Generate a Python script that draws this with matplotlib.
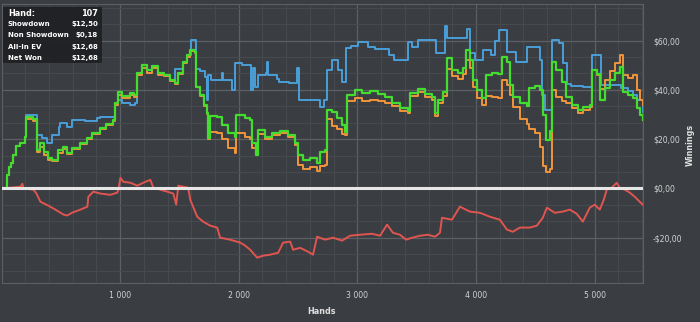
import matplotlib
matplotlib.use("Agg")
from matplotlib import pyplot as plt
from matplotlib.ticker import MultipleLocator, FuncFormatter

# hand numbers where the net won / all-in EV lines change value
hands = [0, 50, 67, 84, 101, 126, 160, 202, 210, 269, 303, 328, 362, 395, 429, 479, 522, 555, 597,
         665, 724, 766, 834, 884, 943, 960, 985, 1019, 1086, 1120, 1145, 1187, 1229, 1271, 1322,
         1372, 1423, 1465, 1490, 1532, 1566, 1591, 1633, 1641, 1675, 1709, 1734, 1742, 1759, 1818,
         1860, 1911, 1970, 1978, 2054, 2096, 2113, 2147, 2163, 2222, 2281, 2349, 2416, 2475, 2500,
         2542, 2601, 2660, 2685, 2728, 2744, 2786, 2829, 2871, 2896, 2913, 2980, 3039, 3106, 3174,
         3233, 3292, 3359, 3426, 3443, 3511, 3570, 3628, 3654, 3679, 3721, 3755, 3797, 3847, 3889,
         3915, 3948, 3974, 4007, 4049, 4083, 4134, 4184, 4218, 4260, 4285, 4310, 4369, 4428, 4445,
         4496, 4538, 4563, 4588, 4622, 4639, 4673, 4723, 4757, 4807, 4858, 4900, 4959, 4976, 5018,
         5043, 5085, 5127, 5169, 5211, 5237, 5279, 5321, 5355, 5380, 5405]

net_won = [0, 5.6, 8.8, 10.4, 13.7, 17.3, 18.5, 21.0, 29.1, 28.3, 15.7, 18.5, 14.9, 12.5, 11.6, 15.7,
           16.9, 14.5, 16.5, 18.5, 20.6, 22.6, 24.6, 26.2, 27.9, 34.6, 39.2, 37.6, 38.8, 38.0, 47.0,
           50.2, 48.2, 49.8, 47.0, 46.1, 44.1, 42.9, 47.0, 51.4, 54.2, 56.3, 55.5, 41.3, 38.0, 34.0,
           30.7, 20.6, 29.5, 29.1, 25.8, 22.6, 21.0, 29.9, 28.7, 27.9, 18.5, 13.7, 23.8, 21.0, 22.6,
           23.4, 21.8, 18.5, 13.7, 11.6, 12.5, 10.4, 14.9, 15.7, 31.9, 31.1, 28.7, 25.8, 23.0, 38.0,
           40.0, 38.8, 39.6, 38.4, 37.2, 34.6, 32.7, 31.5, 38.8, 40.4, 38.4, 37.2, 30.7, 36.0, 39.2,
           53.0, 48.2, 47.0, 49.0, 56.3, 52.2, 44.1, 40.0, 36.8, 46.1, 47.0, 46.5, 53.4, 51.4, 42.1,
           37.2, 34.6, 33.5, 40.8, 41.7, 40.0, 29.9, 19.8, 23.4, 51.4, 48.2, 43.3, 37.2, 34.0, 31.9,
           33.1, 34.0, 48.2, 46.5, 36.0, 40.8, 44.1, 47.0, 49.4, 39.2, 38.0, 36.8, 32.7, 29.9, 27.9]

all_in_ev = [0, 5.6, 8.8, 10.4, 13.7, 17.3, 18.5, 21.0, 28.0, 27.3, 14.7, 17.0, 13.5, 11.5, 11.0, 14.5,
             16.0, 14.0, 16.0, 18.0, 20.0, 22.0, 24.0, 25.6, 27.3, 34.0, 38.0, 36.8, 38.0, 37.0, 46.0,
             48.8, 47.0, 48.8, 46.0, 45.5, 43.5, 42.3, 46.5, 51.0, 53.5, 55.8, 55.0, 41.0, 37.5, 33.5,
             30.0, 20.0, 22.9, 22.5, 20.0, 16.5, 14.5, 22.6, 21.0, 20.0, 16.5, 15.5, 22.0, 20.0, 21.5,
             22.3, 20.8, 17.5, 9.5, 8.0, 8.5, 7.0, 9.0, 9.5, 28.0, 25.5, 24.0, 22.0, 21.5, 35.5,
             36.5, 35.5, 36.0, 35.5, 34.5, 33.5, 31.5, 30.5, 37.5, 39.0, 37.0, 36.0, 29.5, 34.5, 37.5,
             48.5, 45.5, 44.5, 46.5, 52.0, 49.0, 41.0, 36.5, 34.0, 37.5, 37.0, 36.5, 44.0, 42.0, 38.0,
             33.0, 28.0, 26.0, 24.0, 22.5, 17.0, 9.0, 6.5, 8.0, 40.0, 37.0, 35.5, 34.5, 32.5, 30.5,
             32.0, 33.0, 48.2, 46.0, 40.5, 44.0, 47.5, 51.0, 54.0, 46.0, 45.0, 46.0, 40.0, 36.0, 34.0]

sd_hands = [0, 50, 67, 84, 101, 126, 160, 202, 210, 303, 340, 387, 429, 488, 496, 555, 597, 700, 800,
            808, 834, 960, 985, 1019, 1086, 1128, 1145, 1187, 1229, 1271, 1322, 1372, 1423, 1465,
            1532, 1566, 1600, 1642, 1675, 1718, 1734, 1743, 1768, 1860, 1869, 1940, 1945, 1970, 2030,
            2105, 2120, 2135, 2163, 2230, 2240, 2250, 2320, 2340, 2420, 2490, 2510, 2545, 2685, 2720,
            2744, 2790, 2840, 2870, 2905, 2950, 3005, 3090, 3150, 3270, 3310, 3430, 3460, 3510, 3663,
            3740, 3755, 3920, 3950, 3990, 4060, 4125, 4160, 4190, 4260, 4340, 4428, 4540, 4560, 4580,
            4639, 4700, 4730, 4770, 4800, 4900, 4976, 5050, 5220, 5280, 5321, 5355, 5405]
showdown = [0, 5.6, 8.8, 10.4, 13.7, 17.3, 18.5, 21.0, 29.9, 21.8, 20.6, 18.5, 21.8, 25.0, 26.6, 25.0,
            27.9, 27.3, 27.3, 28.5, 29.1, 34.6, 36.0, 34.6, 34.0, 34.6, 47.0, 50.2, 48.2, 49.8, 47.0,
            46.1, 44.1, 48.4, 51.4, 54.2, 60.3, 48.4, 47.5, 45.3, 36.0, 46.1, 44.0, 46.9, 44.0, 42.5,
            40.0, 51.0, 50.2, 40.0, 49.0, 41.0, 46.1, 47.0, 51.4, 46.1, 44.5, 43.0, 42.9, 48.7, 36.0,
            36.0, 33.1, 36.0, 48.2, 52.2, 48.0, 43.0, 57.1, 58.0, 59.3, 57.5, 56.5, 54.0, 52.2, 59.3,
            57.5, 60.3, 55.0, 66.0, 61.1, 64.5, 55.0, 52.2, 56.3, 54.0, 60.0, 64.4, 55.2, 51.4, 57.3,
            52.0, 38.0, 31.9, 60.3, 59.0, 51.0, 42.5, 41.5, 41.0, 54.2, 42.1, 40.8, 39.5, 38.0, 36.0,
            31.0]

nsd_hands = [0, 160, 176, 185, 269, 295, 328, 395, 454, 522, 555, 597, 665, 724, 732, 774, 834, 917,
             976, 985, 1002, 1027, 1086, 1145, 1195, 1254, 1280, 1338, 1397, 1448, 1473, 1490, 1574,
             1591, 1625, 1650, 1700, 1759, 1818, 1843, 1927, 2012, 2054, 2096, 2155, 2205, 2264, 2332,
             2374, 2433, 2458, 2517, 2584, 2626, 2660, 2728, 2795, 2871, 2938, 3022, 3123, 3191, 3250,
             3300, 3359, 3410, 3461, 3528, 3595, 3654, 3696, 3713, 3797, 3864, 3948, 4033, 4117, 4201,
             4260, 4310, 4369, 4454, 4513, 4563, 4597, 4664, 4732, 4790, 4849, 4900, 4959, 5001, 5043,
             5077, 5102, 5144, 5186, 5211, 5253, 5296, 5338, 5380, 5405]
non_showdown = [0, 0.7, 1.9, 0, -0.5, -2.1, -5.4, -7.0, -8.6, -10.6, -11.0, -9.8, -8.6, -7.4, -3.4, -1.3,
                -2.1, -2.6, -1.7, -0.5, 4.3, 2.7, 2.3, 1.1, 2.3, 3.5, 0.3, -0.5, -1.3, -2.1, -6.6, 1.1,
                0.3, -4.6, -8.6, -11.5, -13.5, -15.1, -15.9, -20.0, -20.8, -22.0, -23.2, -24.9, -28.1,
                -27.3, -26.9, -26.1, -22.0, -21.6, -24.9, -24.1, -25.7, -26.9, -19.6, -20.8, -20.0,
                -21.2, -19.2, -18.8, -18.4, -19.2, -14.7, -18.0, -18.8, -20.8, -20.0, -19.2, -18.8,
                -19.6, -18.0, -11.9, -12.7, -7.4, -9.4, -9.9, -11.5, -12.7, -16.7, -17.6, -15.9, -15.9,
                -15.1, -11.9, -7.8, -9.9, -9.4, -8.6, -10.3, -13.5, -7.8, -6.6, -8.6, -4.6, -0.5, 0.3,
                2.3, 0.3, -0.5, -1.7, -3.4, -5.4, -6.6]

tooltip_labels = ["Hand:", "Showdown", "Non Showdown", "All-In EV", "Net Won"]
tooltip_values = ["107", "$12,50", "$0,18", "$12,68", "$12,68"]

bg = "#3a3d42"
fig = plt.figure(figsize=(7, 3.22), dpi=100, facecolor=bg)
ax = fig.add_axes([0.003, 0.121, 0.916, 0.867], facecolor=bg)

ax.plot(sd_hands, showdown, color="#4a9fd8", lw=1.4, drawstyle="steps-post", zorder=3)
ax.plot(nsd_hands, non_showdown, color="#e05550", lw=1.4, zorder=3)
ax.plot(hands, all_in_ev, color="#f0953a", lw=1.4, drawstyle="steps-post", zorder=4)
ax.plot(hands, net_won, color="#45dc30", lw=1.6, drawstyle="steps-post", zorder=5)
ax.axhline(0, color="#e6e6e6", lw=2.2, zorder=6)

ax.set_xlim(5, 5410)
ax.set_ylim(-38.4, 74.9)

ax.xaxis.set_major_locator(MultipleLocator(1000))
ax.xaxis.set_minor_locator(MultipleLocator(200))
ax.yaxis.set_major_locator(MultipleLocator(20))
ax.yaxis.set_minor_locator(MultipleLocator(20 / 3))
ax.grid(which="major", color="#5c5f64", lw=0.9)
ax.grid(which="minor", color="#474a4f", lw=0.7)
ax.set_axisbelow(True)

ax.xaxis.set_major_formatter(FuncFormatter(lambda v, p: "" if v <= 0 else f"{int(v):,}".replace(",", " ")))


def money(v, p):
    s = f"${abs(v):.2f}".replace(".", ",")
    return "-" + s if v < 0 else s


ax.yaxis.set_major_formatter(FuncFormatter(money))
ax.yaxis.tick_right()
ax.tick_params(which="both", length=0, colors="#d2d2d2", labelsize=5.6)
ax.tick_params(axis="y", pad=7)
ax.tick_params(axis="x", pad=6)
for s in ax.spines.values():
    s.set_color("#5c5f64")

fig.text(322 / 700, 1 - 312 / 322, "Hands", color="#e0e0e0", fontsize=5.8, fontweight="bold",
         ha="center", va="center")
fig.text(690 / 700, 1 - 145 / 322, "Winnings", color="#e0e0e0", fontsize=5.8, fontweight="bold",
         ha="center", va="center", rotation=90)

# hover box in the top left corner
fig.patches.append(plt.Rectangle((3 / 700, 1 - 63 / 322), 99 / 700, 56 / 322, transform=fig.transFigure,
                                 facecolor="#1f2023", edgecolor="none", alpha=0.92, zorder=10))
for i, (lab, val) in enumerate(zip(tooltip_labels, tooltip_values)):
    y = 1 - (13 + i * 11.2) / 322
    size = 5.9 if i == 0 else 5.0
    fig.text(8 / 700, y, lab, color="white", fontsize=size, fontweight="bold", va="center", zorder=11)
    fig.text(98 / 700, y, val, color="white", fontsize=size, fontweight="bold", va="center", ha="right",
             zorder=11)

fig.savefig("out.png", dpi=100, facecolor=bg)
